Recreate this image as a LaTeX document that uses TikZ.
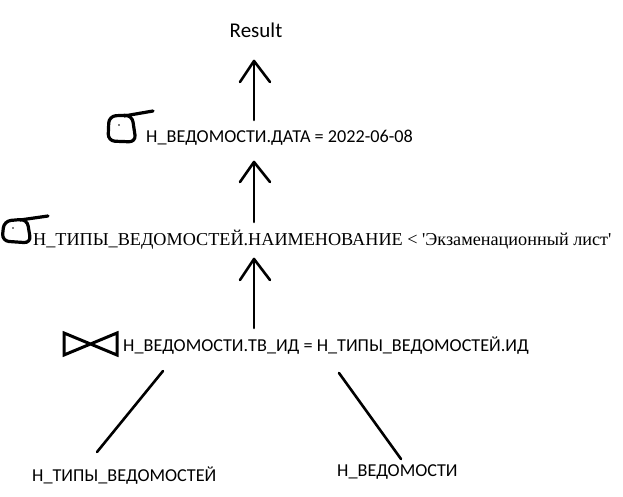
\documentclass[tikz,border=0pt]{standalone}
\usepackage{fontspec}
\setmainfont{Carlito}
\newfontfamily\timesfont{Liberation Serif}
\begin{document}
\begin{tikzpicture}[x=1pt,y=-1pt,
  lbl/.style={inner sep=0pt,anchor=west,font=\fontsize{18.2}{20}\selectfont},
  tlbl/.style={inner sep=0pt,anchor=west,font=\timesfont\fontsize{18.2}{20}\selectfont},
  stroke/.style={line width=2.6pt,line cap=round,line join=round},
  sig/.style={line width=3.2pt,line cap=round,line join=round}]
\useasboundingbox[fill=white] (0,0) rectangle (623,497);
% texts
\node[inner sep=0pt,font=\fontsize{21}{24}\selectfont] (res) at (256,30) {Result};
\node[lbl] (s1) at (146,138) {Н\_ВЕДОМОСТИ.ДАТА = 2022-06-08};
\node[tlbl] (s2) at (33,240) {Н\_ТИПЫ\_ВЕДОМОСТЕЙ.НАИМЕНОВАНИЕ < 'Экзаменационный лист'};
\node[lbl] (j) at (123,346) {Н\_ВЕДОМОСТИ.ТВ\_ИД = Н\_ТИПЫ\_ВЕДОМОСТЕЙ.ИД};
\node[lbl] (t1) at (32,476) {Н\_ТИПЫ\_ВЕДОМОСТЕЙ};
\node[lbl] (t2) at (337,472) {Н\_ВЕДОМОСТИ};
% arrows
\coordinate (a1b) at (254,120); \coordinate (a1t) at (254,61);
\coordinate (a1l) at (240,82); \coordinate (a1r) at (270,82);
\coordinate (a2b) at (254,222); \coordinate (a2t) at (254,162);
\coordinate (a2l) at (240,182); \coordinate (a2r) at (270,182);
\coordinate (a3b) at (254,328); \coordinate (a3t) at (254,259);
\coordinate (a3l) at (240,280); \coordinate (a3r) at (270,280);
\draw[stroke] (a1b) -- (a1t); \draw[stroke] (a1l) -- (a1t) -- (a1r);
\draw[stroke] (a2b) -- (a2t); \draw[stroke] (a2l) -- (a2t) -- (a2r);
\draw[stroke] (a3b) -- (a3t); \draw[stroke] (a3l) -- (a3t) -- (a3r);
% tree lines
\coordinate (l1a) at (163,371); \coordinate (l1b) at (97,452);
\coordinate (l2a) at (339,373); \coordinate (l2b) at (401,459);
\draw[stroke] (l1a) -- (l1b);
\draw[stroke] (l2a) -- (l2b);
% sigma 1
\draw[sig,rounded corners=7pt] (132,115) -- (109,116) -- (108,141) -- (136,142) -- cycle;
\draw[sig] (124,116) -- (153,111);
\fill (119,125) circle (0.9pt);
% sigma 2
\draw[sig,rounded corners=7pt] (27,219) -- (4,221) -- (2,241) -- (31,243) -- cycle;
\draw[sig] (20,220) -- (48,216);
\fill (13,228) circle (0.9pt);
% bowtie
\draw[line width=3pt,line join=miter] (64,333) -- (64,355) -- (117,333) -- (117,355) -- cycle;
\end{tikzpicture}
\end{document}
